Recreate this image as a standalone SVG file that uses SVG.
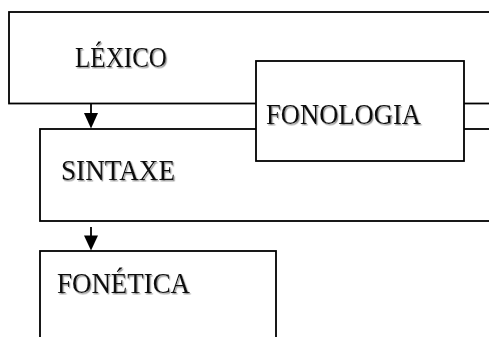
<svg xmlns="http://www.w3.org/2000/svg" width="489" height="337" viewBox="0 0 489 337">
  <style>
    .box { fill: #ffffff; stroke: #000000; stroke-width: 1.8; }
    .lbl { font-family: "Liberation Serif", "DejaVu Serif", serif; font-size: 29.5px; fill: #111111; filter: url(#shadow); }
    .wire { stroke: #000000; stroke-width: 1.8; fill: none; }
    .head { fill: #000000; stroke: none; }
  </style>
  <defs>
    <filter id="shadow" x="-10%" y="-20%" width="130%" height="150%">
      <feDropShadow dx="1.2" dy="1.4" stdDeviation="0.7" flood-color="#7a7a7a" flood-opacity="0.8"/>
    </filter>
  </defs>

  <g id="lexico">
    <rect class="box" x="9" y="12" width="500" height="91.5"/>
    <text class="lbl" x="75" y="67" textLength="92" lengthAdjust="spacingAndGlyphs">LÉXICO</text>
  </g>

  <g id="sintaxe">
    <rect class="box" x="40" y="129" width="470" height="92"/>
    <text class="lbl" x="61" y="180" textLength="114" lengthAdjust="spacingAndGlyphs">SINTAXE</text>
  </g>

  <g id="fonetica">
    <rect class="box" x="40" y="251" width="236" height="100"/>
    <text class="lbl" x="57" y="293" textLength="133" lengthAdjust="spacingAndGlyphs">FONÉTICA</text>
  </g>

  <g id="connectors">
    <line class="wire" x1="91" y1="103.5" x2="91" y2="114"/>
    <polygon class="head" points="84,113 98,113 91,128.5"/>
    <line class="wire" x1="91" y1="227" x2="91" y2="236"/>
    <polygon class="head" points="84,235.5 98,235.5 91,250.5"/>
  </g>

  <g id="fonologia">
    <rect class="box" x="256" y="61" width="208" height="100"/>
    <text class="lbl" x="266" y="124" textLength="155" lengthAdjust="spacingAndGlyphs">FONOLOGIA</text>
  </g>
</svg>
